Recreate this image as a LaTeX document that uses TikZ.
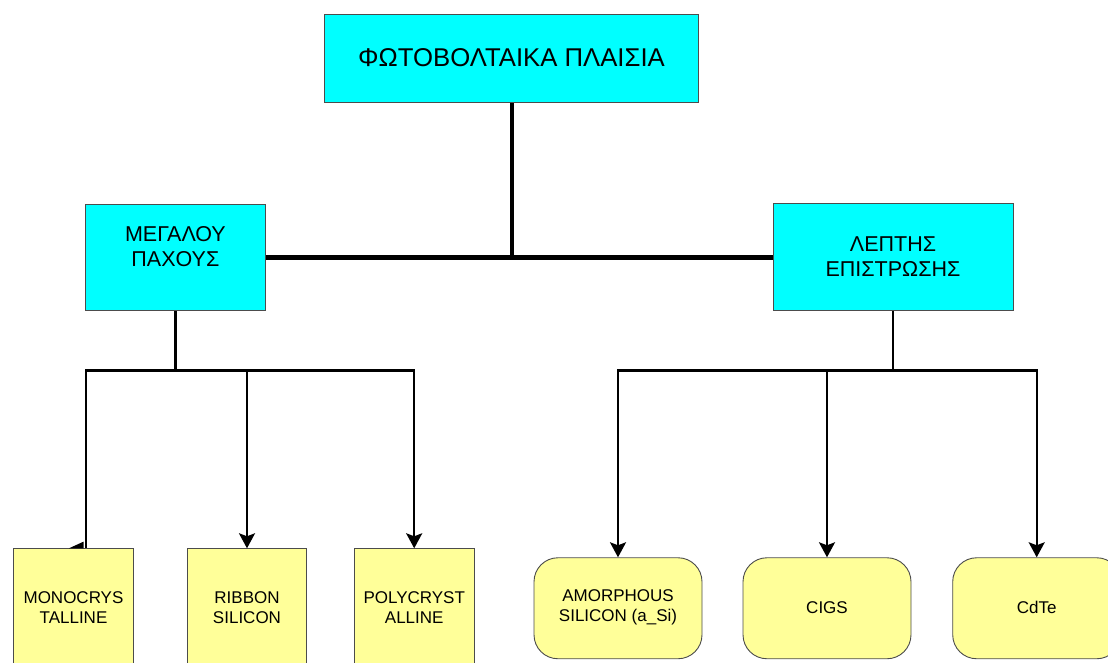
\documentclass[tikz,border=0pt]{standalone}
\usepackage{fontspec}
\setmainfont{Liberation Sans}
\usetikzlibrary{arrows.meta}
\definecolor{boxcyan}{HTML}{00FFFF}
\definecolor{boxyellow}{HTML}{FFFF99}
\begin{document}
\begin{tikzpicture}[x=1pt,y=-1pt,
  cyanbox/.style={draw=black!70,line width=0.9pt,fill=boxcyan,inner sep=0pt},
  yelbox/.style={draw=black!70,line width=0.9pt,fill=boxyellow,inner sep=0pt},
  roundbox/.style={yelbox,rounded corners=24pt},
  txtbig/.style={font=\fontsize{25.7}{30}\selectfont,inner sep=0pt},
  txtmid/.style={font=\fontsize{21.5}{25}\selectfont,inner sep=0pt,align=center},
  txtsmall/.style={font=\fontsize{17}{20}\selectfont,inner sep=0pt,align=center},
  thickline/.style={line width=4.5pt},
  thinline/.style={line width=2.3pt},
  arrowline/.style={thinline,-{Stealth[length=15pt,width=16pt,inset=3pt]}}
]
\useasboundingbox (0,0) rectangle (1108,662);
\clip (0,0) rectangle (1108,662);
% top box
\node[cyanbox,minimum width=374pt,minimum height=88.5pt] (top) at (511.9,58.4) {};
\node[txtbig] (toptxt) at (511.5,57.5) {ΦΩΤΟΒΟΛΤΑΙΚΑ ΠΛΑΙΣΙΑ};
% middle boxes
\node[cyanbox,minimum width=179.5pt,minimum height=106.5pt] (left) at (175.4,257.4) {};
\node[txtmid] (lefttxt) at (175.4,246.5) {ΜΕΓΑΛΟΥ\\ΠΑΧΟΥΣ};
\node[cyanbox,minimum width=240pt,minimum height=107pt] (right) at (893,257.4) {};
\node[txtmid] (righttxt) at (893,257) {ΛΕΠΤΗΣ\\ΕΠΙΣΤΡΩΣΗΣ};
% bottom left boxes
\node[yelbox,minimum width=120.4pt,minimum height=150pt,anchor=north] (mono) at (73.5,548.3) {};
\node[txtsmall] (monotxt) at (73.5,607.5) {MONOCRYS\\TALLINE};
\node[yelbox,minimum width=119.4pt,minimum height=150pt,anchor=north] (ribbon) at (247,548.3) {};
\node[txtsmall] (ribbontxt) at (247,607.5) {RIBBON\\SILICON};
\node[yelbox,minimum width=119.7pt,minimum height=150pt,anchor=north] (poly) at (414.2,548.3) {};
\node[txtsmall] (polytxt) at (414.2,607.5) {POLYCRYST\\ALLINE};
% bottom right rounded boxes
\node[roundbox,minimum width=168pt,minimum height=101pt,anchor=north] (amor) at (618,557.3) {};
\node[txtsmall] (amortxt) at (618,607.8) {AMORPHOUS\\SILICON (a\_Si)};
\node[roundbox,minimum width=168pt,minimum height=101pt,anchor=north] (cigs) at (827,557.3) {};
\node[txtsmall] (cigstxt) at (827,607.5) {CIGS};
\node[roundbox,minimum width=168pt,minimum height=101pt,anchor=north] (cdte) at (1036.7,557.3) {};
\node[txtsmall] (cdtetxt) at (1036.7,607.5) {CdTe};
% junction coordinates
\coordinate (hub) at (top.south |- left.east);
\coordinate (lj) at (left.south |- 0,370.5);
\coordinate (lj1) at (85.7,370.5);
\coordinate (rj) at (right.south |- 0,370.5);
% thick connectors
\draw[thickline] (top.south) -- (hub);
\draw[thickline] (left.east) -- (left.east -| right.west);
% left branch
\draw[thinline] (left.south) -- (lj);
\draw[thinline,line cap=rect] (lj1) -- (lj1 -| poly.north);
\draw[thinline] (lj1) -- (lj1 |- mono.north);
\fill (69,548.3) -- (83.6,541.6) -- (83.6,548.3) -- cycle;
\draw[arrowline] (lj1 -| ribbon.north) -- (ribbon.north);
\draw[arrowline] (lj1 -| poly.north) -- (poly.north);
% right branch
\draw[thinline] (right.south) -- (rj);
\draw[thinline,line cap=rect] (rj -| amor.north) -- (rj -| cdte.north);
\draw[arrowline] (rj -| amor.north) -- (amor.north);
\draw[arrowline] (rj -| cigs.north) -- (cigs.north);
\draw[arrowline] (rj -| cdte.north) -- (cdte.north);
\end{tikzpicture}
\end{document}
